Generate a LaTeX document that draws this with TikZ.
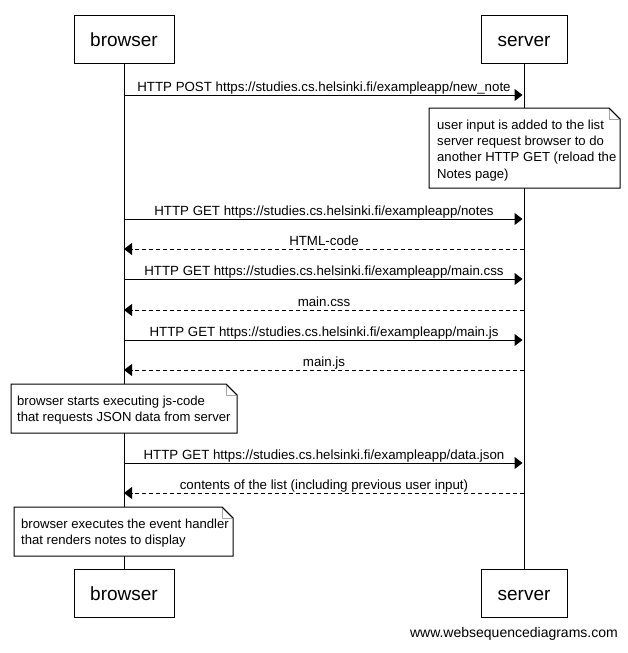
\documentclass[tikz,border=0pt]{standalone}
\usepackage{fontspec}
\setmainfont{Liberation Sans}
\usetikzlibrary{arrows.meta}

\tikzset{
  actor/.style={draw, line width=1pt, inner sep=0pt, minimum height=48pt,
    text height=14pt, text depth=0pt,
    font=\fontsize{19}{22}\selectfont},
  lifeline/.style={line width=1pt},
  call/.style={line width=1pt, -{Triangle[length=8pt,width=12pt]}, shorten >=1.5pt},
  reply/.style={line width=1pt, dash pattern=on 4pt off 3pt,
    -{Triangle[length=8pt,width=12pt]}},
  lbl/.style={midway, anchor=base, yshift=3.5pt, inner sep=0pt,
    font=\fontsize{13.3}{15}\selectfont},
  notebox/.style={draw, line width=1pt, fill=white},
  notefold/.style={draw=gray!70, line width=1pt},
  notetext/.style={anchor=north west, inner sep=0pt, align=left,
    font=\fontsize{13.1}{16.3}\selectfont},
}

\begin{document}
\begin{tikzpicture}[x=1pt, y=-1pt]
  \useasboundingbox (0,0) rectangle (628,653);
  \fill[white] (0,0) rectangle (628,653);

  % participants, top and bottom
  \node[actor, minimum width=100pt] (bT) at (124,39) {browser};
  \node[actor, minimum width=86pt]  (sT) at (524,39) {server};
  \node[actor, minimum width=100pt] (bB) at (124,593.5) {browser};
  \node[actor, minimum width=86pt]  (sB) at (524,593.5) {server};

  % lifelines
  \draw[lifeline] (bT.south) -- (bB.north);
  \draw[lifeline] (sT.south) -- (sB.north);

  % message end points on the lifelines
  \foreach \n/\y in {1/95, 2/219, 3/249, 4/279, 5/310, 6/340, 7/370, 8/463, 9/493} {
    \coordinate (b\n) at (124,\y);
    \coordinate (s\n) at (524,\y);
  }

  \draw[call] (b1) -- node[lbl] {HTTP POST https://studies.cs.helsinki.fi/exampleapp/new\_note} (s1);

  % note on the server
  \draw[notebox] (429,108) -- (609,108) -- (620,119) -- (620,188) -- (429,188) -- cycle;
  \draw[notefold] (609,108) -- (609,119) -- (620,119);
  \draw[line width=1pt] (609,108) -- (620,119);
  \node[notetext] (n1) at (437,119.6) {user input is added to the list\\server request browser to do\\another HTTP GET (reload the\\Notes page)};

  \draw[call]  (b2) -- node[lbl] {HTTP GET https://studies.cs.helsinki.fi/exampleapp/notes} (s2);
  \draw[reply] (s3) -- node[lbl] {HTML-code} (b3);
  \draw[call]  (b4) -- node[lbl] {HTTP GET https://studies.cs.helsinki.fi/exampleapp/main.css} (s4);
  \draw[reply] (s5) -- node[lbl] {main.css} (b5);
  \draw[call]  (b6) -- node[lbl] {HTTP GET https://studies.cs.helsinki.fi/exampleapp/main.js} (s6);
  \draw[reply] (s7) -- node[lbl] {main.js} (b7);

  % note on the browser
  \draw[notebox] (11,384) -- (226,384) -- (237,395) -- (237,433) -- (11,433) -- cycle;
  \draw[notefold] (226,384) -- (226,395) -- (237,395);
  \draw[line width=1pt] (226,384) -- (237,395);
  \node[notetext] (n2) at (17,395.6) {browser starts executing js-code\\that requests JSON data from server};

  \draw[call]  (b8) -- node[lbl] {HTTP GET https://studies.cs.helsinki.fi/exampleapp/data.json} (s8);
  \draw[reply] (s9) -- node[lbl] {contents of the list (including previous user input)} (b9);

  % closing note on the browser
  \draw[notebox] (14,507) -- (222,507) -- (233,518) -- (233,556) -- (14,556) -- cycle;
  \draw[notefold] (222,507) -- (222,518) -- (233,518);
  \draw[line width=1pt] (222,507) -- (233,518);
  \node[notetext] (n3) at (21,518.4) {browser executes the event handler\\that renders notes to display};

  \node[anchor=base east, inner sep=0pt, font=\fontsize{14}{16}\selectfont] (wsd) at (618,637) {www.websequencediagrams.com};
\end{tikzpicture}
\end{document}
